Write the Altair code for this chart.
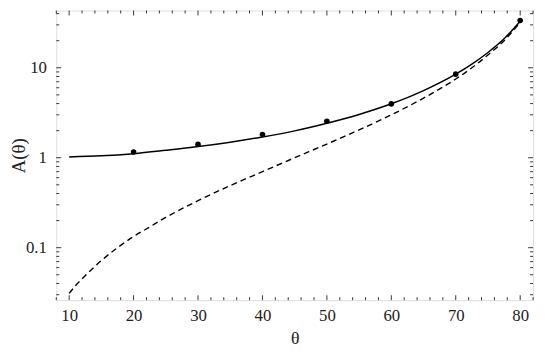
import altair as alt
import pandas as pd

# solid curve
solid_x = [10, 15, 20, 25, 30, 35, 40, 45, 50, 55, 60, 65, 70, 72.5, 75, 77.5, 80]
solid_y = [1.02, 1.05, 1.11, 1.21, 1.33, 1.49, 1.70, 1.99, 2.42, 3.03, 3.98, 5.58, 8.5, 11.0, 14.8, 21.0, 33.0]

# dashed curve
dash_x = [10, 11, 12, 13, 14, 15, 17.5, 20, 22.5, 25, 30, 35, 40, 45, 50, 55, 60, 65, 70, 72.5, 75, 77.5, 80]
dash_y = [0.031, 0.038, 0.045, 0.053, 0.062, 0.072, 0.10, 0.133, 0.17, 0.217, 0.333, 0.49, 0.70, 1.0, 1.42,
          2.04, 3.0, 4.6, 7.5, 10.0, 13.9, 20.0, 32.0]

# measured points
pt_x = [20, 30, 40, 50, 60, 70, 80]
pt_y = [1.16, 1.41, 1.81, 2.55, 3.97, 8.5, 33.5]

# ticks
x_major = [10, 20, 30, 40, 50, 60, 70, 80]
x_minor = [v for v in range(8, 83, 2) if v % 10 != 0]
y_major = [0.1, 1, 10]
y_minor = [0.03, 0.04, 0.05, 0.06, 0.07, 0.08, 0.09,
           0.2, 0.3, 0.4, 0.5, 0.6, 0.7, 0.8, 0.9,
           2, 3, 4, 5, 6, 7, 8, 9, 20, 30, 40]

W, H = 484, 294
FONT = "'Liberation Serif', 'Times New Roman', serif"

xs = alt.Scale(domain=[8, 82], nice=False, zero=False)
ys = alt.Scale(type="log", domain=[0.0261, 43.3], nice=False)

df_solid = pd.DataFrame({"x": solid_x, "y": solid_y})
df_dash = pd.DataFrame({"x": dash_x, "y": dash_y})
df_pts = pd.DataFrame({"x": pt_x, "y": pt_y})

xaxis = alt.Axis(values=x_major, ticks=False, domain=False, grid=False, labelPadding=8,
                 labelFont=FONT, labelFontSize=17, labelColor="#222", title="θ",
                 titleFont=FONT, titleFontSize=18, titleFontWeight="normal", titleColor="#222",
                 titlePadding=6)
yaxis = alt.Axis(values=y_major, format="~g", ticks=False, domain=False, grid=False, labelPadding=10,
                 labelFont=FONT, labelFontSize=17, labelColor="#222", title="A(θ)",
                 titleFont=FONT, titleFontSize=19, titleFontWeight="normal", titleColor="#222",
                 titleX=-38, titleY=H / 2, titleAngle=270, titleAlign="center", titleBaseline="middle")

solid = alt.Chart(df_solid).mark_line(color="black", strokeWidth=1.5, interpolate="monotone").encode(
    x=alt.X("x:Q", scale=xs, axis=xaxis),
    y=alt.Y("y:Q", scale=ys, axis=yaxis),
)
dashed = alt.Chart(df_dash).mark_line(color="black", strokeWidth=1.4, strokeDash=[6, 4],
                                      interpolate="monotone").encode(
    x=alt.X("x:Q", scale=xs), y=alt.Y("y:Q", scale=ys))
points = alt.Chart(df_pts).mark_circle(color="black", opacity=1, size=32).encode(
    x=alt.X("x:Q", scale=xs), y=alt.Y("y:Q", scale=ys))

def xticks(vals, length):
    d = pd.DataFrame({"x": vals})
    b = alt.Chart(d).mark_rule(color="black", strokeWidth=0.8).encode(
        x=alt.X("x:Q", scale=xs), y=alt.value(H), y2=alt.value(H - length))
    t = alt.Chart(d).mark_rule(color="black", strokeWidth=0.8).encode(
        x=alt.X("x:Q", scale=xs), y=alt.value(0), y2=alt.value(length))
    return [b, t]

def yticks(vals, length):
    d = pd.DataFrame({"y": vals})
    l = alt.Chart(d).mark_rule(color="black", strokeWidth=0.8).encode(
        y=alt.Y("y:Q", scale=ys), x=alt.value(0), x2=alt.value(length))
    r = alt.Chart(d).mark_rule(color="black", strokeWidth=0.8).encode(
        y=alt.Y("y:Q", scale=ys), x=alt.value(W), x2=alt.value(W - length))
    return [l, r]

layers = [solid, dashed, points] + xticks(x_major, 5) + xticks(x_minor, 3) + yticks(y_major, 5) + yticks(y_minor, 3)

chart = alt.layer(*layers).properties(
    width=W, height=H,
    padding={"left": 49, "top": 0, "right": 4, "bottom": 47},
    autosize=alt.AutoSizeParams(type="none"),
).configure_view(stroke="black", strokeWidth=1.2).configure(background="white")

chart.save("out.html", embed_options={"renderer": "svg", "actions": False})
